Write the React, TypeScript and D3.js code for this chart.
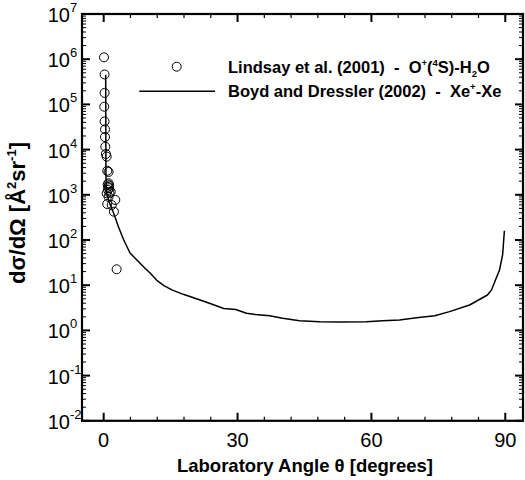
import React from "react";
import * as d3 from "d3";

// Boyd and Dressler (2002) - Xe+-Xe : [angle deg, dσ/dΩ]
const lineAngles = [0.45, 0.5, 0.6, 1.2, 2.1, 2.7, 3.3, 4.5, 5.9, 7.0, 8.1, 9.2, 10.4, 11.9, 13.5, 15.4, 18.0, 20.8, 24.0, 26.9, 29.6, 32.0, 34.0, 37.2, 40.1, 43.9, 48.4, 53.0, 58.9, 62.5, 66.3, 70.1, 74.2, 77.5, 82.0, 86.0, 86.9, 88.7, 89.4, 89.8];
const lineValues = [4.5e5, 3.0e3, 1.2e3, 700, 423, 290, 197, 100, 51.5, 40, 31, 24, 18.6, 12.8, 9.8, 7.8, 6.2, 5.0, 3.9, 3.05, 2.9, 2.4, 2.25, 2.1, 1.85, 1.64, 1.56, 1.54, 1.55, 1.64, 1.7, 1.91, 2.11, 2.6, 3.65, 6.07, 7.8, 21.7, 46.7, 160];

// Lindsay et al. (2001) - O+(4S)-H2O
const ptAngles = [0.07, 0.2, 0.2, 0.13, 0.2, 0.3, 0.3, 0.37, 0.5, 0.67, 0.8, 1.1, 1.1, 1.25, 0.96, 0.67, 1.57, 2.6, 0.8, 1.8, 2.3, 2.9, 1.0, 1.2, 0.9, 1.3, 1.1];
const ptValues = [1.1e6, 4.6e5, 1.8e5, 8.9e4, 4.2e4, 2.8e4, 1.9e4, 1.16e4, 8000, 7000, 3400, 3200, 1800, 1600, 1280, 1080, 1170, 770, 625, 594, 423, 22.5, 1500, 1400, 1700, 1100, 900];

const xMajor = [0, 30, 60, 90];
const xMinor = [6, 12, 18, 24, 36, 42, 48, 54, 66, 72, 78, 84];
const yExps = [-2, -1, 0, 1, 2, 3, 4, 5, 6, 7];

const W = 525, H = 480;
const L = 82, R = 523, T = 14, B = 420.8;
const FONT = "'Liberation Sans', Arial, Helvetica, sans-serif";

export default function App() {
  const x = d3.scaleLinear().domain([-4.86, 93.97]).range([L, R]);
  const y = d3.scaleLog().domain([1e-2, 1e7]).range([B, T]);

  const linePts: [number, number][] = lineAngles.map((a, i) => [a, lineValues[i]]);
  const path = d3.line<[number, number]>().x(d => x(d[0])).y(d => y(d[1]))(linePts) || "";

  const yMinor: number[] = [];
  for (let e = -2; e < 7; e++) for (let m = 2; m <= 9; m++) yMinor.push(m * Math.pow(10, e));

  const major = 8, minor = 4;
  const tickStroke = "#000";
  const pre = { whiteSpace: "pre" as const };

  return (
    <div style={{ position: "absolute", left: 0, top: 0 }}>
      <svg width={W} height={H} style={{ display: "block", background: "#fff" }} fontFamily={FONT}>
        {/* ticks */}
        <g stroke={tickStroke}>
          {xMajor.map(v => (
            <g key={"xM" + v}>
              <line x1={x(v)} x2={x(v)} y1={B} y2={B - major} strokeWidth={2} />
              <line x1={x(v)} x2={x(v)} y1={T} y2={T + major} strokeWidth={2} />
            </g>
          ))}
          {xMinor.map(v => (
            <g key={"xm" + v}>
              <line x1={x(v)} x2={x(v)} y1={B} y2={B - minor} strokeWidth={1.2} />
              <line x1={x(v)} x2={x(v)} y1={T} y2={T + minor} strokeWidth={1.2} />
            </g>
          ))}
          {yExps.map(e => (
            <g key={"yM" + e}>
              <line x1={L} x2={L + major} y1={y(Math.pow(10, e))} y2={y(Math.pow(10, e))} strokeWidth={2} />
              <line x1={R} x2={R - major} y1={y(Math.pow(10, e))} y2={y(Math.pow(10, e))} strokeWidth={2} />
            </g>
          ))}
          {yMinor.map((v, i) => (
            <g key={"ym" + i}>
              <line x1={L} x2={L + minor} y1={y(v)} y2={y(v)} strokeWidth={1} />
              <line x1={R} x2={R - minor} y1={y(v)} y2={y(v)} strokeWidth={1} />
            </g>
          ))}
        </g>
        {/* frame */}
        <rect x={L} y={T} width={R - L} height={B - T} fill="none" stroke="#000" strokeWidth={2.2} />

        {/* data line */}
        <path d={path} fill="none" stroke="#000" strokeWidth={1.5} strokeLinejoin="round" />
        {/* data points */}
        {ptAngles.map((a, i) => (
          <circle key={"p" + i} cx={x(a)} cy={y(ptValues[i])} r={4.5} fill="none" stroke="#000" strokeWidth={1} />
        ))}

        {/* x tick labels */}
        {xMajor.map(v => (
          <text key={"xl" + v} x={x(v)} y={447} fontSize={20} textAnchor="middle">{v}</text>
        ))}
        {/* y tick labels */}
        {yExps.map(e => (
          <text key={"yl" + e} x={70} y={y(Math.pow(10, e)) + 8} fontSize={20} textAnchor="end">
            10
          </text>
        ))}
        {yExps.map(e => (
          <text key={"ye" + e} x={70} y={y(Math.pow(10, e)) - 2} fontSize={13} textAnchor="start">
            {e}
          </text>
        ))}

        {/* axis titles */}
        <text x={305} y={472} fontSize={18.5} fontWeight="bold" textAnchor="middle">
          Laboratory Angle θ [degrees]
        </text>
        <text transform={`translate(25,213) rotate(-90)`} fontSize={22} fontWeight="bold" textAnchor="middle">
          dσ/dΩ [Å<tspan dy={-9} fontSize={13}>2</tspan><tspan dy={9}>sr</tspan><tspan dy={-9} fontSize={13}>-1</tspan><tspan dy={9}>]</tspan>
        </text>

        {/* legend */}
        <circle cx={176.7} cy={66.7} r={4.5} fill="none" stroke="#000" strokeWidth={1} />
        <line x1={139.3} x2={215} y1={91.3} y2={91.3} stroke="#000" strokeWidth={1.5} />
        <text x={228} y={73} fontSize={16.5} fontWeight="bold" style={pre}>
          {"Lindsay et al. (2001)  -  O"}<tspan dy={-7} fontSize={9.5}>+</tspan><tspan dy={7}>(</tspan><tspan dy={-7} fontSize={9.5}>4</tspan><tspan dy={7}>S)-H</tspan><tspan dy={4} fontSize={9.5}>2</tspan><tspan dy={-4}>O</tspan>
        </text>
        <text x={228} y={97} fontSize={16.5} fontWeight="bold" style={pre}>
          {"Boyd and Dressler (2002)  -  Xe"}<tspan dy={-7} fontSize={9.5}>+</tspan><tspan dy={7}>-Xe</tspan>
        </text>
      </svg>
    </div>
  );
}
